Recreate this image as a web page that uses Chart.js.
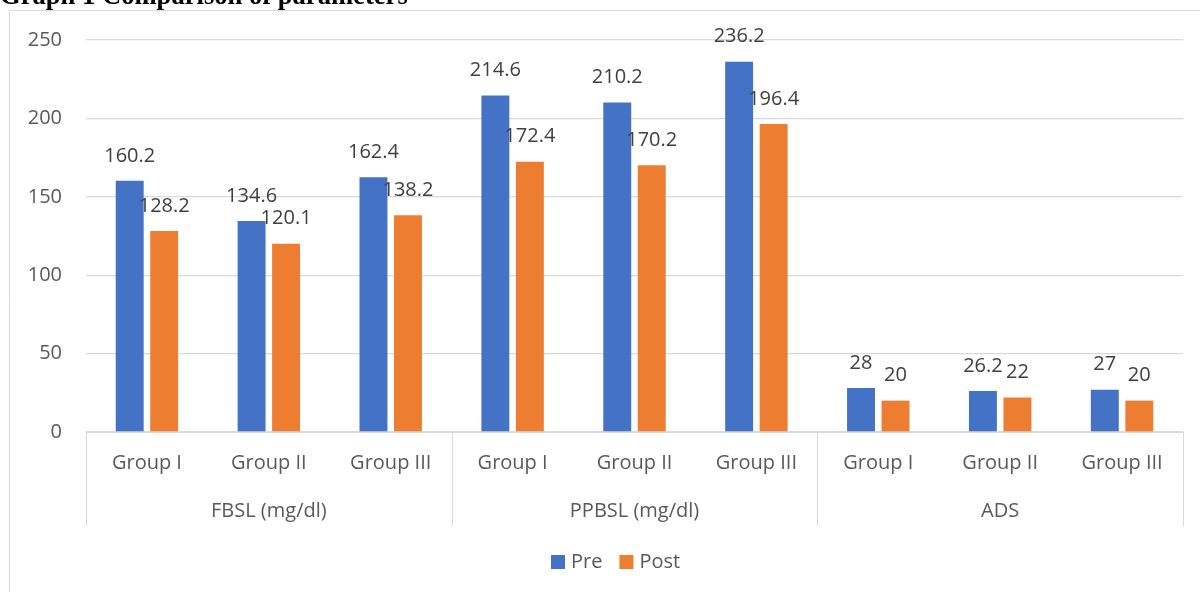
<!DOCTYPE html>
<html>
<head>
<meta charset="utf-8">
<title>Graph 1 Comparison of parameters</title>
<script src="https://cdn.jsdelivr.net/npm/chart.js@4/dist/chart.umd.min.js"></script>
<style>
  html, body { margin: 0; padding: 0; background: #ffffff; }
  #wrap { position: relative; width: 1200px; height: 592px; }
</style>
</head>
<body>
<div id="wrap"><canvas id="chart" width="1200" height="592"></canvas></div>
<script>
// Chart data
const categories = ['Group I', 'Group II', 'Group III', 'Group I', 'Group II', 'Group III', 'Group I', 'Group II', 'Group III'];
const parameters = ['FBSL (mg/dl)', 'PPBSL (mg/dl)', 'ADS'];
const preValues = [160.2, 134.6, 162.4, 214.6, 210.2, 236.2, 28, 26.2, 27];
const postValues = [128.2, 120.1, 138.2, 172.4, 170.2, 196.4, 20, 22, 20];
const seriesNames = ['Pre', 'Post'];
const yTickMin = 0, yTickMax = 250, yTickStep = 50;

const BLUE = '#4472C4';
const ORANGE = '#ED7D31';
const GRID = '#D9D9D9';
const TEXT = '#595959';
const LABEL_TEXT = '#404040';
const FONT = '"Open Sans", "Segoe UI", sans-serif';

// Heading, outer frame, two-level category axis, value labels and legend
const decorations = {
  id: 'decorations',
  beforeDraw(chart) {
    const ctx = chart.ctx;
    ctx.save();
    ctx.fillStyle = '#ffffff';
    ctx.fillRect(0, 0, chart.width, chart.height);
    // outer frame
    ctx.strokeStyle = GRID;
    ctx.lineWidth = 1;
    ctx.beginPath();
    ctx.moveTo(9.5, chart.height);
    ctx.lineTo(9.5, 10.5);
    ctx.lineTo(chart.width, 10.5);
    ctx.stroke();
    // heading
    ctx.fillStyle = '#000000';
    ctx.font = 'bold 26.6px "Liberation Serif", "Times New Roman", serif';
    ctx.textAlign = 'left';
    ctx.textBaseline = 'alphabetic';
    ctx.fillText('Graph 1 Comparison of parameters', 0, 4);
    ctx.restore();
  },
  afterDatasetsDraw(chart) {
    const ctx = chart.ctx;
    const x = chart.scales.x;
    const area = chart.chartArea;
    ctx.save();

    // value labels above each bar
    ctx.font = '20px ' + FONT;
    ctx.fillStyle = LABEL_TEXT;
    ctx.textAlign = 'center';
    ctx.textBaseline = 'middle';
    chart.data.datasets.forEach((ds, di) => {
      const meta = chart.getDatasetMeta(di);
      meta.data.forEach((bar, i) => {
        ctx.fillText(String(ds.data[i]), bar.x, bar.y - 25);
      });
    });

    // category axis: baseline and group separators
    const bottomY = 526;
    const groupSize = 3;
    const step = (area.right - area.left) / categories.length;
    ctx.strokeStyle = GRID;
    ctx.lineWidth = 1;
    ctx.beginPath();
    ctx.moveTo(area.left, area.bottom + 0.5);
    ctx.lineTo(area.right, area.bottom + 0.5);
    for (let k = 0; k <= parameters.length; k++) {
      const sx = Math.round(area.left + k * groupSize * step) + 0.5;
      ctx.moveTo(sx, area.bottom);
      ctx.lineTo(sx, bottomY);
    }
    ctx.stroke();

    // category labels
    ctx.font = '20px ' + FONT;
    ctx.fillStyle = TEXT;
    ctx.textAlign = 'center';
    ctx.textBaseline = 'middle';
    categories.forEach((c, i) => {
      ctx.fillText(c, x.getPixelForValue(i), area.bottom + 31);
    });
    parameters.forEach((p, k) => {
      const cx = (x.getPixelForValue(k * groupSize) + x.getPixelForValue(k * groupSize + groupSize - 1)) / 2;
      ctx.fillText(p, cx, area.bottom + 79);
    });

    // legend
    const legendY = 562;
    const box = 14;
    let lx = 551;
    ctx.textAlign = 'left';
    chart.data.datasets.forEach((ds, di) => {
      ctx.fillStyle = ds.backgroundColor;
      ctx.fillRect(lx, legendY - box / 2, box, box);
      lx += box + 6;
      ctx.fillStyle = TEXT;
      ctx.fillText(ds.label, lx, legendY);
      lx += ctx.measureText(ds.label).width + 17;
    });
    ctx.restore();
  }
};

new Chart(document.getElementById('chart'), {
  type: 'bar',
  data: {
    labels: categories,
    datasets: [
      { label: seriesNames[0], data: preValues, backgroundColor: BLUE },
      { label: seriesNames[1], data: postValues, backgroundColor: ORANGE }
    ]
  },
  options: {
    responsive: false,
    animation: false,
    devicePixelRatio: 1,
    layout: { padding: { left: 0, right: 17, top: 40, bottom: 0 } },
    datasets: {
      bar: { categoryPercentage: 0.566, barPercentage: 0.81 }
    },
    plugins: {
      legend: { display: false },
      title: { display: false },
      tooltip: { enabled: false }
    },
    scales: {
      x: {
        grid: { display: false },
        border: { display: false },
        ticks: { display: false },
        afterFit(scale) { scale.height = 160; }
      },
      y: {
        min: yTickMin,
        max: yTickMax,
        ticks: {
          stepSize: yTickStep,
          padding: 24,
          color: TEXT,
          font: { family: FONT, size: 20 }
        },
        grid: { color: GRID, lineWidth: 1.3, drawTicks: false },
        border: { display: false },
        afterFit(scale) { scale.width = 86; }
      }
    }
  },
  plugins: [decorations]
});
</script>
</body>
</html>
